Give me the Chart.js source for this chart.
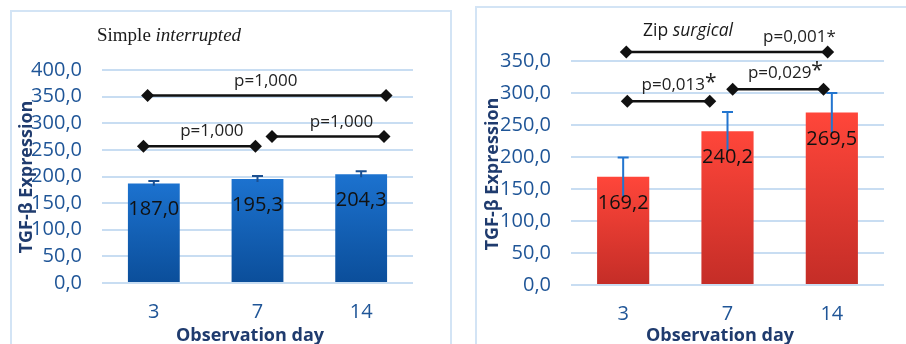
<!DOCTYPE html>
<html>
<head>
<meta charset="utf-8">
<script src="https://cdn.jsdelivr.net/npm/chart.js@4.4.1/dist/chart.umd.min.js"></script>
<style>
  body { margin: 0; background: #fff; width: 906px; height: 344px; overflow: hidden; position: relative; }
  .frame { position: absolute; border: 2px solid #D3E4F5; box-sizing: border-box; }
  #frameA { left: 10px; top: 10px; width: 442px; height: 350px; }
  #frameB { left: 475px; top: 6px; width: 450px; height: 350px; }
  canvas { position: absolute; top: 0; }
  #chartA { left: 0; }
  #chartB { left: 452px; }
</style>
</head>
<body>
<div class="frame" id="frameA"></div>
<div class="frame" id="frameB"></div>
<canvas id="chartA" width="452" height="344"></canvas>
<canvas id="chartB" width="454" height="344"></canvas>
<script>
const days = ['3', '7', '14'];

const simpleMean = [187.0, 195.3, 204.3];
const simpleSd = [4.5, 5.5, 5.5];
const zipMean = [169.2, 240.2, 269.5];
const zipSd = [30.0, 30.0, 30.5];

// pairwise comparisons: bracket ends in category units, level in y units
const simplePFrom = [-0.06, -0.10, 1.14];
const simplePTo = [2.24, 0.98, 2.22];
const simplePLevel = [352, 257, 275];
const simplePText = ['p=1,000', 'p=1,000', 'p=1,000'];
const simplePStar = [false, false, false];
const simplePTextAt = [1.08, 0.56, 1.81];

const zipPFrom = [0.03, 0.04, 1.05];
const zipPTo = [1.96, 0.83, 1.92];
const zipPLevel = [364, 287, 306];
const zipPText = ['p=0,001*', 'p=0,013', 'p=0,029'];
const zipPStar = [false, true, true];
const zipPTextAt = [1.69, 0.48, 1.50];

const SANS = '"Open Sans", "DejaVu Sans", sans-serif';
const TICK_BLUE = '#1F5597';
const NAVY = '#1F3B6E';

function comma(v, d) {
  return v.toFixed(d).replace('.', ',');
}

function diamond(ctx, x, y, r) {
  ctx.beginPath();
  ctx.moveTo(x, y - r);
  ctx.lineTo(x + r, y);
  ctx.lineTo(x, y + r);
  ctx.lineTo(x - r, y);
  ctx.closePath();
  ctx.fill();
}

// error bars, value labels, p-value brackets and titles
const extras = {
  id: 'extras',
  afterDatasetsDraw(chart, args, o) {
    const ctx = chart.ctx;
    const ys = chart.scales.y;
    const bars = chart.getDatasetMeta(0).data;
    ctx.save();
    ctx.strokeStyle = o.errColor;
    ctx.lineWidth = 2;
    bars.forEach((bar, i) => {
      const top = ys.getPixelForValue(o.mean[i] + o.sd[i]);
      const bot = ys.getPixelForValue(o.mean[i] - o.sd[i]);
      ctx.beginPath();
      ctx.moveTo(bar.x, bot);
      ctx.lineTo(bar.x, top);
      ctx.moveTo(bar.x - 5.5, top);
      ctx.lineTo(bar.x + 5.5, top);
      ctx.stroke();
    });
    ctx.fillStyle = '#111';
    ctx.font = '20px ' + SANS;
    ctx.textAlign = 'center';
    ctx.textBaseline = 'alphabetic';
    bars.forEach((bar, i) => {
      ctx.fillText(comma(o.mean[i], 1), bar.x, ys.getPixelForValue(o.mean[i]) + 32);
    });
    ctx.restore();
  },
  afterDraw(chart, args, o) {
    const ctx = chart.ctx;
    const xs = chart.scales.x;
    const ys = chart.scales.y;
    ctx.save();

    // comparison brackets
    ctx.strokeStyle = '#111';
    ctx.lineWidth = 2.5;
    o.pFrom.forEach((f, i) => {
      const x1 = xs.getPixelForValue(f);
      const x2 = xs.getPixelForValue(o.pTo[i]);
      const y = ys.getPixelForValue(o.pLevel[i]);
      ctx.fillStyle = '#111';
      ctx.beginPath();
      ctx.moveTo(x1, y);
      ctx.lineTo(x2, y);
      ctx.stroke();
      diamond(ctx, x1, y, 6.5);
      diamond(ctx, x2, y, 6.5);

      ctx.font = '17px ' + SANS;
      ctx.fillStyle = '#222';
      ctx.textAlign = 'center';
      const cx = xs.getPixelForValue(o.pTextAt[i]);
      const ty = y - (o.pStar[i] ? 11 : 10);
      ctx.fillText(o.pText[i], cx, ty);
      if (o.pStar[i]) {
        const w = ctx.measureText(o.pText[i]).width;
        ctx.font = '21px ' + SANS;
        ctx.textAlign = 'left';
        ctx.fillText('*', cx + w / 2, ty - 1);
      }
    });

    // chart title, two fonts
    ctx.fillStyle = '#1a1a1a';
    ctx.textAlign = 'left';
    ctx.font = o.titleFont;
    ctx.fillText(o.title[0], o.titleAt[0], o.titleAt[1]);
    const w0 = ctx.measureText(o.title[0]).width;
    ctx.font = 'italic ' + o.titleFont;
    ctx.fillText(o.title[1], o.titleAt[0] + w0, o.titleAt[1]);

    // axis titles
    ctx.fillStyle = NAVY;
    ctx.font = 'bold 18px ' + SANS;
    ctx.textAlign = 'center';
    ctx.fillText('Observation day', o.xTitleAt[0], o.xTitleAt[1]);
    ctx.translate(o.yTitleAt[0], o.yTitleAt[1]);
    ctx.rotate(-Math.PI / 2);
    ctx.font = 'bold 18px ' + SANS;
    ctx.textBaseline = 'middle';
    ctx.fillText('TGF-β Expression', 0, 0);
    ctx.restore();
  }
};

function barChart(canvasID, mean, yMax, colors, axisWidth, axisHeight, padRight, padTop, extraOpts) {
  const ctx = document.getElementById(canvasID).getContext('2d');
  return new Chart(ctx, {
    type: 'bar',
    data: {
      labels: days,
      datasets: [{
        data: mean,
        backgroundColor: c => {
          const area = c.chart.chartArea;
          if (!area) return colors[0];
          const top = c.chart.scales.y.getPixelForValue(mean[c.dataIndex]);
          const g = c.chart.ctx.createLinearGradient(0, top, 0, area.bottom);
          g.addColorStop(0, colors[0]);
          g.addColorStop(1, colors[1]);
          return g;
        },
        borderWidth: 0,
        categoryPercentage: 1,
        barPercentage: 0.5
      }]
    },
    options: {
      responsive: false,
      animation: false,
      layout: { padding: { top: padTop, right: padRight, left: 0, bottom: 0 } },
      plugins: {
        legend: { display: false },
        tooltip: { enabled: false },
        extras: extraOpts
      },
      scales: {
        x: {
          grid: { display: false },
          border: { display: false },
          ticks: { color: TICK_BLUE, font: { family: SANS, size: 20 }, padding: 9 },
          afterFit: s => { s.height = axisHeight; }
        },
        y: {
          min: 0,
          max: yMax,
          ticks: {
            stepSize: 50,
            autoSkip: false,
            color: TICK_BLUE,
            font: { family: SANS, size: 20 },
            padding: 20,
            callback: v => comma(v, 1)
          },
          grid: { color: '#C8DDF2', lineWidth: 2, drawTicks: false },
          border: { display: false },
          afterFit: s => { s.width = axisWidth; }
        }
      }
    },
    plugins: [extras]
  });
}

barChart('chartA', simpleMean, 400, ['#1C72CF', '#0B4E9A'], 102, 61, 39, 70, {
  mean: simpleMean, sd: simpleSd, errColor: '#1B4F90',
  pFrom: simplePFrom, pTo: simplePTo, pLevel: simplePLevel,
  pText: simplePText, pStar: simplePStar, pTextAt: simplePTextAt,
  title: ['Simple ', 'interrupted'], titleFont: '19px "Liberation Serif", serif', titleAt: [97, 41],
  xTitleAt: [250, 341], yTitleAt: [27, 177]
});

barChart('chartB', zipMean, 350, ['#FF463A', '#C42D27'], 119, 59, 22, 61, {
  mean: zipMean, sd: zipSd, errColor: '#2275CF',
  pFrom: zipPFrom, pTo: zipPTo, pLevel: zipPLevel,
  pText: zipPText, pStar: zipPStar, pTextAt: zipPTextAt,
  title: ['Zip ', 'surgical'], titleFont: '17.5px ' + SANS, titleAt: [191, 36],
  xTitleAt: [268, 341], yTitleAt: [41, 174]
});
</script>
</body>
</html>
